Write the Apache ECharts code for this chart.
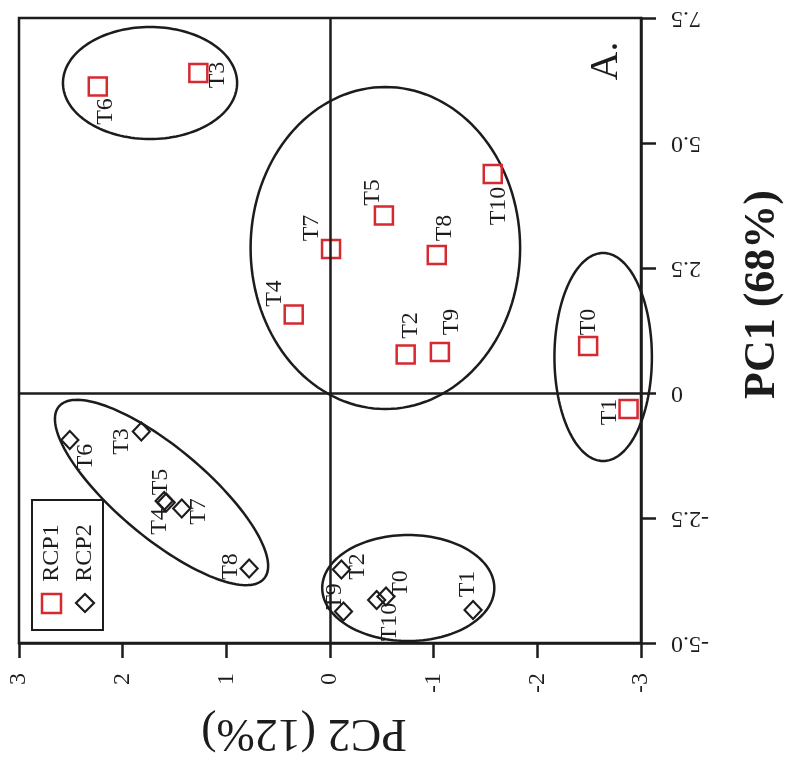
<!DOCTYPE html>
<html><head><meta charset="utf-8">
<script src="https://cdn.jsdelivr.net/npm/echarts@6/dist/echarts.min.js"></script>
<style>html,body{margin:0;padding:0;background:#fff}#c{width:793px;height:772px}</style>
</head><body><div id="c"></div>
<script>
// ---- data ----
const seriesNames = ['RCP1', 'RCP2'];
const labels = ['T0','T1','T2','T3','T4','T5','T6','T7','T8','T9','T10'];
const rcp1PC2 = [-2.49, -2.88, -0.73, 1.27, 0.35, -0.52, 2.24, -0.01, -1.03, -1.06, -1.57];
const rcp1PC1 = [0.94, -0.32, 0.77, 6.40, 1.57, 3.55, 6.13, 2.88, 2.76, 0.82, 4.38];
const rcp2PC2 = [-0.54, -1.38, -0.11, 1.82, 1.58, 1.60, 2.51, 1.43, 0.78, -0.13, -0.45];
const rcp2PC1 = [-4.07, -4.34, -3.53, -0.77, -2.19, -2.16, -0.94, -2.31, -3.51, -4.37, -4.14];
const xTickLabels = ['3','2','1','0','-1','-2','-3'];
const yTickLabels = ['-5.0','-2.5','0','2.5','5.0','7.5'];
// group ellipses: [centre PC2, centre PC1, axis u (PC2, PC1), axis v (PC2, PC1)]
const ellipseCentrePC2 = [1.736, -0.534, -2.635, 1.625, -0.755];
const ellipseCentrePC1 = [6.20, 2.90, 0.72, -1.99, -3.90];
const ellipseU = [[0.84, 0], [1.30, 0], [0.47, 0], [-0.99, -1.72], [0.83, 0]];
const ellipseV = [[0, 1.12], [0, 3.22], [0, 2.08], [0.278, -0.69], [0, 1.06]];

// ---- label placement (pixel offsets of each label centre from its point) ----
const rcp1LabelOffset = [[1,-24],[-19,3],[5,-29],[19,2],[-19,-21],[-11,-23],[8,25],[-19,-21],[8,-27],[12,-30],[6,32]];
const rcp2LabelOffset = [[15,-13],[-5,-26],[16,-3],[-20,10],[-7,19],[-3,-19],[16,17],[17,3],[-18,-2],[-9,-15],[13,22]];

const FONT = "'Liberation Serif','Times New Roman',serif";
const INK = '#1e1b1c';
const RED = '#d62a31';

function labelSeries(xs, ys, offs) {
  return {
    type: 'custom', silent: true, z: 6, clip: false,
    data: labels.map((n, i) => [xs[i], ys[i]]),
    encode: {x: 0, y: 1},
    renderItem: (params, api) => {
      const p = api.coord([api.value(0), api.value(1)]);
      const o = offs[params.dataIndex];
      return {
        type: 'text', x: p[0] + o[0], y: p[1] + o[1], rotation: Math.PI / 2,
        style: {text: labels[params.dataIndex], font: '24px ' + FONT, fill: INK,
                align: 'center', verticalAlign: 'middle'}
      };
    }
  };
}

const ellipseData = ellipseCentrePC2.map((c, i) =>
  [c, ellipseCentrePC1[i], ellipseU[i][0], ellipseU[i][1], ellipseV[i][0], ellipseV[i][1]]);

const chart = echarts.init(document.getElementById('c'));
chart.setOption({
  animation: false,
  backgroundColor: '#fff',
  grid: {left: 19, top: 18, width: 625, height: 625, show: true,
         borderColor: INK, borderWidth: 2.5, backgroundColor: 'transparent'},
  xAxis: {
    type: 'value', min: -3, max: 3, interval: 1, inverse: true, position: 'bottom',
    axisLine: {onZero: false, lineStyle: {color: INK, width: 2.5}},
    axisTick: {show: true, length: 15, lineStyle: {color: INK, width: 2.5}},
    axisLabel: {rotate: 90, margin: 30, fontSize: 24, fontFamily: FONT, color: INK,
                formatter: v => xTickLabels[Math.round(3 - v)]},
    splitLine: {show: false},
    name: 'PC2 (12%)', nameLocation: 'middle', nameGap: 66, nameRotate: 180,
    nameTextStyle: {fontSize: 46, fontFamily: FONT, color: INK, padding: [0, 0, 0, 52]}
  },
  yAxis: {
    type: 'value', min: -5, max: 7.5, interval: 2.5, position: 'right',
    axisLine: {show: true, onZero: false, lineStyle: {color: INK, width: 2.5}},
    axisTick: {show: true, length: 15, lineStyle: {color: INK, width: 2.5}},
    axisLabel: {rotate: 180, margin: 30, fontSize: 24, fontFamily: FONT, color: INK,
                formatter: v => yTickLabels[Math.round((v + 5) / 2.5)]},
    splitLine: {show: false},
    name: 'PC1 (68%)', nameLocation: 'middle', nameGap: 100, nameRotate: 90,
    nameTextStyle: {fontSize: 44, fontWeight: 'bold', fontFamily: FONT, color: INK, padding: [0, 0, 0, 72]}
  },
  graphic: [
    {type: 'rect', z: 100, shape: {x: 32, y: 500, width: 71, height: 130},
     style: {fill: '#fff', stroke: INK, lineWidth: 2}},
    {type: 'rect', z: 101, shape: {x: 42, y: 594, width: 19, height: 19},
     style: {fill: 'none', stroke: RED, lineWidth: 2.5}},
    {type: 'polygon', z: 101, shape: {points: [[85, 594], [94, 603], [85, 612], [76, 603]]},
     style: {fill: 'none', stroke: INK, lineWidth: 2.2}},
    {type: 'text', z: 101, x: 52, y: 553, rotation: Math.PI / 2,
     style: {text: seriesNames[0], font: '24px ' + FONT, fill: INK, align: 'center', verticalAlign: 'middle'}},
    {type: 'text', z: 101, x: 85, y: 553, rotation: Math.PI / 2,
     style: {text: seriesNames[1], font: '24px ' + FONT, fill: INK, align: 'center', verticalAlign: 'middle'}},
    {type: 'text', z: 101, x: 606, y: 61, rotation: Math.PI / 2,
     style: {text: 'A.', font: '40px ' + FONT, fill: INK, align: 'center', verticalAlign: 'middle'}}
  ],
  series: [
    {
      type: 'custom', silent: true, z: 1, clip: false,
      data: ellipseData,
      encode: {x: 0, y: 1},
      renderItem: (params, api) => {
        const cx = api.value(0), cy = api.value(1);
        const ux = api.value(2), uy = api.value(3), vx = api.value(4), vy = api.value(5);
        const pts = [];
        for (let k = 0; k < 144; k++) {
          const t = k / 144 * Math.PI * 2;
          pts.push(api.coord([cx + ux * Math.cos(t) + vx * Math.sin(t),
                              cy + uy * Math.cos(t) + vy * Math.sin(t)]));
        }
        return {type: 'polygon', shape: {points: pts},
                style: {fill: 'none', stroke: INK, lineWidth: 2.5}};
      }
    },
    {
      name: seriesNames[0], type: 'scatter', z: 4,
      symbol: 'rect', symbolSize: 18,
      itemStyle: {color: 'rgba(255,255,255,0)', borderColor: RED, borderWidth: 2.5, opacity: 1},
      data: labels.map((n, i) => ({name: n, value: [rcp1PC2[i], rcp1PC1[i]]})),
      markLine: {
        silent: true, symbol: ['none', 'none'], label: {show: false},
        lineStyle: {color: INK, width: 2.5, type: 'solid'},
        data: [{xAxis: 0}, {yAxis: 0}]
      }
    },
    {
      name: seriesNames[1], type: 'scatter', z: 4,
      symbol: 'diamond', symbolSize: [17, 18],
      itemStyle: {color: 'rgba(255,255,255,0)', borderColor: INK, borderWidth: 2.2, opacity: 1},
      data: labels.map((n, i) => ({name: n, value: [rcp2PC2[i], rcp2PC1[i]]}))
    },
    labelSeries(rcp1PC2, rcp1PC1, rcp1LabelOffset),
    labelSeries(rcp2PC2, rcp2PC1, rcp2LabelOffset)
  ]
});
</script>
</body></html>
